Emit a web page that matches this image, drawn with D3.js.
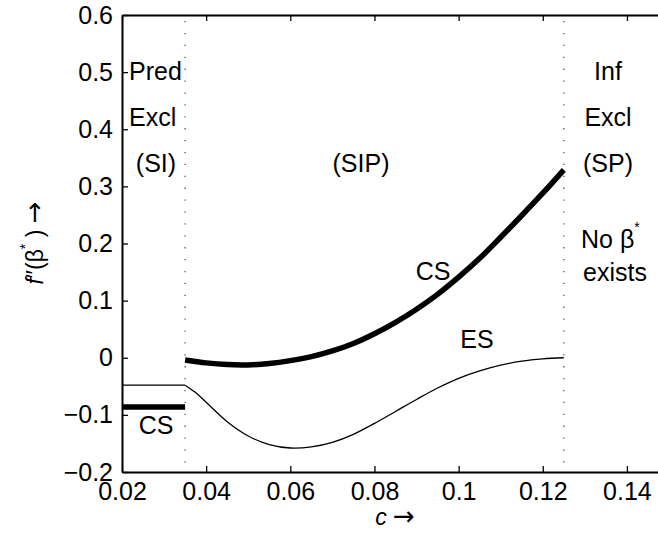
<!DOCTYPE html>
<html>
<head>
<meta charset="utf-8">
<script src="https://cdn.jsdelivr.net/npm/d3@7"></script>
<style>
  body { margin: 0; background: #fff; }
  text { font-family: "Liberation Sans", Arial, Helvetica, sans-serif; }
</style>
</head>
<body>
<div id="chart"></div>
<script>
// data
const csLeftC = [0.02, 0.035];
const csLeftV = [-0.086, -0.086];
const esLeftC = [0.02, 0.035];
const esLeftV = [-0.048, -0.048];

const csC = [0.035, 0.04, 0.045, 0.05, 0.055, 0.06, 0.065, 0.07, 0.075, 0.08, 0.085, 0.09, 0.095, 0.1, 0.105, 0.11, 0.115, 0.12, 0.125];
const csV = [-0.004, -0.009, -0.012, -0.0125, -0.010, -0.005, 0.002, 0.012, 0.025, 0.042, 0.062, 0.085, 0.111, 0.141, 0.174, 0.211, 0.249, 0.288, 0.329];

const esC = [0.035, 0.0375, 0.04, 0.045, 0.05, 0.055, 0.06, 0.065, 0.07, 0.075, 0.08, 0.085, 0.09, 0.095, 0.1, 0.105, 0.11, 0.115, 0.12, 0.125];
const esV = [-0.048, -0.061, -0.078, -0.112, -0.137, -0.152, -0.158, -0.156, -0.148, -0.134, -0.115, -0.094, -0.073, -0.053, -0.036, -0.023, -0.013, -0.006, -0.002, 0.0];

const regionBounds = [0.035, 0.125];
const xTicks = [0.02, 0.04, 0.06, 0.08, 0.1, 0.12, 0.14];
const xTickLabels = ["0.02", "0.04", "0.06", "0.08", "0.1", "0.12", "0.14"];
const yTicks = [-0.2, -0.1, 0, 0.1, 0.2, 0.3, 0.4, 0.5, 0.6];
const yTickLabels = ["\u22120.2", "\u22120.1", "0", "0.1", "0.2", "0.3", "0.4", "0.5", "0.6"];

const W = 658, H = 542;
const mLeft = 122, mTop = 15, mRight = 669, mBottom = 472;

const svg = d3.select("#chart").append("svg")
  .attr("width", W)
  .attr("height", H);

const x = d3.scaleLinear().domain([0.02, 0.15]).range([mLeft, mRight]);
const y = d3.scaleLinear().domain([-0.2, 0.6]).range([mBottom, mTop]);

const pairs = (cs, vs) => cs.map((c, i) => [c, vs[i]]);
const straight = d3.line().x(d => x(d[0])).y(d => y(d[1]));
const smooth = d3.line().curve(d3.curveCatmullRom.alpha(0.5)).x(d => x(d[0])).y(d => y(d[1]));

// dotted region boundaries
svg.selectAll(".bound")
  .data(regionBounds)
  .enter().append("line")
  .attr("x1", d => x(d)).attr("x2", d => x(d))
  .attr("y1", y(0.6) + 6).attr("y2", mBottom)
  .attr("stroke", "#555")
  .attr("stroke-width", 1.3)
  .attr("stroke-dasharray", "1.3,10.6");

// curves
svg.append("path").datum(pairs(esLeftC, esLeftV))
  .attr("d", straight).attr("fill", "none").attr("stroke", "#000").attr("stroke-width", 1.3);
svg.append("path").datum(pairs(esC, esV))
  .attr("d", smooth).attr("fill", "none").attr("stroke", "#000").attr("stroke-width", 1.3);
svg.append("path").datum(pairs(csLeftC, csLeftV))
  .attr("d", straight).attr("fill", "none").attr("stroke", "#000").attr("stroke-width", 5.5);
svg.append("path").datum(pairs(csC, csV))
  .attr("d", smooth).attr("fill", "none").attr("stroke", "#000").attr("stroke-width", 5.5);

// axes
const fs = 25;
svg.append("g")
  .attr("transform", "translate(0," + mBottom + ")")
  .call(d3.axisBottom(x).tickValues(xTicks).tickFormat((d, i) => xTickLabels[i]).tickSize(-6).tickPadding(10).tickSizeOuter(0));
svg.append("g")
  .attr("transform", "translate(" + mLeft + ",0)")
  .call(d3.axisLeft(y).tickValues(yTicks).tickFormat((d, i) => yTickLabels[i]).tickSize(-6).tickPadding(9).tickSizeOuter(0));
svg.append("g")
  .attr("transform", "translate(0," + mTop + ")")
  .call(d3.axisTop(x).tickValues(xTicks).tickFormat("").tickSize(-6).tickSizeOuter(0));
svg.append("g")
  .attr("transform", "translate(" + mRight + ",0)")
  .call(d3.axisRight(y).tickValues(yTicks).tickFormat("").tickSize(-6).tickSizeOuter(0));

svg.selectAll(".domain").attr("stroke", "#000").attr("stroke-width", 2);
svg.selectAll(".tick line").attr("stroke", "#000").attr("stroke-width", 1.3);
svg.selectAll(".tick text")
  .attr("fill", "#000")
  .style("font-size", fs + "px")
  .style("font-family", "'Liberation Sans', Arial, sans-serif");

// region labels
const label = (tx, ty, str, anchor) =>
  svg.append("text").attr("x", tx).attr("y", ty)
    .attr("text-anchor", anchor || "start")
    .style("font-size", fs + "px").text(str);

label(129, 80, "Pred");
label(129, 126, "Excl");
label(156, 172, "(SI)", "middle");
label(361, 172, "(SIP)", "middle");
label(608, 80, "Inf", "middle");
label(608, 126, "Excl", "middle");
label(608, 172, "(SP)", "middle");
label(433, 280, "CS", "middle");
label(477, 348, "ES", "middle");
label(156, 434, "CS", "middle");

const nob = svg.append("text").attr("x", 581).attr("y", 248).style("font-size", fs + "px");
nob.append("tspan").text("No \u03b2");
nob.append("tspan").attr("dy", -16).style("font-size", "14px").text("*");
label(583, 281, "exists");

// axis titles
const yl = svg.append("text")
  .attr("transform", "translate(43,243) rotate(-90)")
  .attr("text-anchor", "middle")
  .style("font-size", "23px");
yl.append("tspan").style("font-style", "italic").text("f");
yl.append("tspan").text("\u2033(\u03b2");
yl.append("tspan").attr("dy", -13).style("font-size", "14px").text("*");
yl.append("tspan").attr("dy", 13).text(" ) ");
yl.append("tspan").style("font-family", "'DejaVu Sans', sans-serif").style("font-size", "26px").text("\u2192");

const xl = svg.append("text")
  .attr("x", 395).attr("y", 525)
  .attr("text-anchor", "middle")
  .style("font-size", "23px");
xl.append("tspan").style("font-style", "italic").text("c ");
xl.append("tspan").style("font-family", "'DejaVu Sans', sans-serif").style("font-size", "26px").text("\u2192");
</script>
</body>
</html>
